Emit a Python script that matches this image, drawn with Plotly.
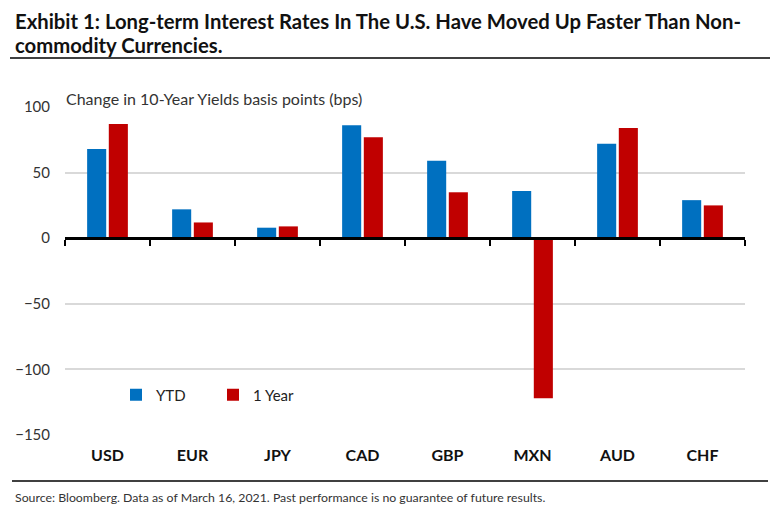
import plotly.graph_objects as go

categories = ["USD", "EUR", "JPY", "CAD", "GBP", "MXN", "AUD", "CHF"]
ytd = [68, 22, 8, 86, 59, 36, 72, 29]
one_year = [87, 12, 9, 77, 35, -122, 84, 25]
series_names = ["YTD", "1 Year"]
y_ticks = [-150, -100, -50, 0, 50, 100]
y_range = [-150, 100]

title_line1 = "Exhibit 1: Long-term Interest Rates In The U.S. Have Moved Up Faster Than Non-"
title_line2 = "commodity Currencies."
axis_note = "Change in 10-Year Yields basis points (bps)"
source_text = "Source: Bloomberg. Data as of March 16, 2021. Past performance is no guarantee of future results."

FONT = "Lato, Roboto, sans-serif"
BLUE = "#0070C0"
RED = "#C00000"

OFF = 8  # page body margin
W, H = 784 - OFF, 532 - OFF
# plot area in page pixels: x 65..745, y 107..435
ML = 65 - OFF
MT = 107 - OFF
MR = W - (745 - OFF)
MB = H - (435 - OFF)
plot_h = H - MT - MB
plot_w = W - ML - MR


def py(px):
    return (H - MB - (px - OFF)) / plot_h


def pxx(px):
    return (px - OFF - ML) / plot_w


fig = go.Figure()
fig.add_trace(go.Bar(x=categories, y=ytd, name=series_names[0], marker_color=BLUE,
                     marker_line_width=0))
fig.add_trace(go.Bar(x=categories, y=one_year, name=series_names[1], marker_color=RED,
                     marker_line_width=0))

n = len(categories)
zero_pos = (0 - y_range[0]) / (y_range[1] - y_range[0])

fig.update_layout(
    width=W, height=H,
    margin=dict(l=ML, r=MR, t=MT, b=MB, autoexpand=False),
    paper_bgcolor="white", plot_bgcolor="white",
    font=dict(family=FONT, color="#222"),
    barmode="group", bargap=0.49, bargroupgap=0.12,
    showlegend=True,
    legend=dict(orientation="h", x=pxx(116), y=py(395), xanchor="left", yanchor="middle",
                font=dict(size=15, family=FONT, color="#222"),
                itemwidth=30, entrywidth=52, bgcolor="rgba(0,0,0,0)"),
    xaxis=dict(type="category", categoryarray=categories, range=[-0.5, n - 0.5],
               showline=False, ticks="", showgrid=False, zeroline=False, automargin=False,
               tickfont=dict(size=16, family=FONT, color="#111", weight="bold"),
               ticklabelstandoff=9),
    xaxis2=dict(overlaying="x", anchor="free", position=zero_pos, range=[-0.5, n - 0.5],
                showline=True, linewidth=3, linecolor="black", showgrid=False, zeroline=False,
                ticks="outside", ticklen=6, tickwidth=2, tickcolor="black", automargin=False,
                tickmode="array", tickvals=[i - 0.5 for i in range(n + 1)],
                showticklabels=False),
    yaxis=dict(range=y_range, tickvals=y_ticks, showgrid=True, gridcolor="#d9d9d9",
               gridwidth=2, zeroline=False, showline=False, ticks="", automargin=False,
               tickfont=dict(size=15, family=FONT, color="#333"),
               ticklabelstandoff=14),
)

# invisible trace to activate xaxis2
fig.add_trace(go.Scatter(x=[0], y=[0], xaxis="x2", mode="markers", marker=dict(opacity=0),
                         showlegend=False, hoverinfo="skip"))

title_font = dict(size=20.3, family=FONT, color="#111", weight="bold")
fig.add_annotation(text=title_line1, xref="paper", yref="paper", x=pxx(13), y=py(21),
                   xanchor="left", yanchor="middle", showarrow=False, font=title_font)
fig.add_annotation(text=title_line2, xref="paper", yref="paper", x=pxx(13), y=py(45),
                   xanchor="left", yanchor="middle", showarrow=False, font=title_font)
fig.add_annotation(text=axis_note, xref="paper", yref="paper", x=pxx(64), y=py(98),
                   xanchor="left", yanchor="middle", showarrow=False,
                   font=dict(size=16, family=FONT, color="#333"))
fig.add_annotation(text=source_text, xref="paper", yref="paper", x=pxx(13), y=py(497),
                   xanchor="left", yanchor="middle", showarrow=False,
                   font=dict(size=12.3, family=FONT, color="#333"))

fig.add_shape(type="line", xref="paper", yref="paper", x0=pxx(10), x1=pxx(770),
              y0=py(58), y1=py(58), line=dict(color="black", width=1.5))
fig.add_shape(type="line", xref="paper", yref="paper", x0=pxx(12), x1=pxx(768),
              y0=py(481), y1=py(481), line=dict(color="black", width=1.5))

fig.write_html("out.html")
